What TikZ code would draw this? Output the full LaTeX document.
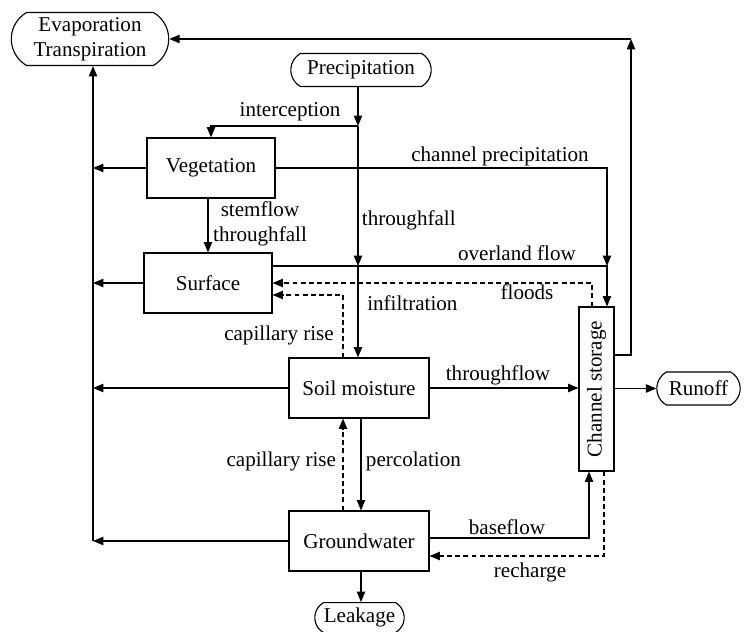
\documentclass[tikz,border=0pt]{standalone}
\usepackage{fontspec}
\setmainfont{Liberation Serif}
\usetikzlibrary{arrows.meta,shapes.misc}

\begin{document}
\begin{tikzpicture}[font=\fontsize{15}{18}\selectfont, >={Triangle[length=2.6mm,width=2.1mm]}, line width=0.8pt,
  box/.style={draw, minimum width=3.2cm, minimum height=1.5cm, inner sep=2pt},
  term/.style={draw, rounded rectangle, rounded rectangle arc length=120, minimum height=0.825cm, inner sep=2pt, align=center},
  lbl/.style={inner sep=1pt},
  back/.style={dash pattern=on 3.5pt off 2.3pt}]
  \useasboundingbox (0,0) rectangle (18.6,15.8);
  \node[term, minimum width=4.075cm, minimum height=1.325cm] (ET) at (2.25,14.825) {Evaporation\\Transpiration};
  \node[term, minimum width=3.65cm] (P) at (9.025,14.05) {Precipitation};
  \node[box] (V) at (5.275,11.6) {Vegetation};
  \node[box] (S) at (5.2,8.725) {Surface};
  \node[box, minimum width=3.5cm] (SM) at (8.975,6.1) {Soil moisture};
  \node[box, minimum width=3.5cm] (GW) at (8.975,2.275) {Groundwater};
  \node[draw, minimum width=0.875cm, minimum height=4.1cm, inner sep=0pt] (CS) at (14.9125,6.075) {\rotatebox{90}{Channel storage}};
  \node[term, minimum width=2.225cm] (R) at (17.4625,6.0875) {Runoff};
  \node[term, minimum width=2.375cm, minimum height=0.75cm] (L) at (8.9875,0.36) {Leakage};

  % junctions
  \coordinate (ic) at (8.95,12.65);
  \coordinate (tf) at (8.95,9.15);
  \coordinate (cp) at (15.175,9.15);
  \coordinate (et) at (15.775,14.825);
  \coordinate (lft) at (2.325,2.225);

  % losses to the atmosphere
  \draw[->] (GW.west) -- (GW.west -| lft);
  \draw[->] (GW.west -| lft) -- (ET.south -| lft);
  \draw[->] (V.west) -- (V.west -| lft);
  \draw[->] (S.west) -- (S.west -| lft);
  \draw[->] (SM.west) -- (SM.west -| lft);

  % precipitation path
  \draw[->] (P.south -| ic) -- (ic);
  \draw[->] (ic) -| (V.north);
  \draw[->] (ic) -- (tf);
  \draw[->] (tf) -- (tf |- SM.north);
  \draw[->] (V.south -| S.north) -- (S.north);
  \draw[->] (V.east) -| (cp);
  \draw[->] (S.east |- tf) -- (cp) -- (cp |- CS.north);

  % returns
  \draw[->, back] ([xshift=-0.1125cm]CS.north) |- (S.east);
  \draw[->, back] ([xshift=-0.4cm]SM.north) |- ([yshift=-0.3cm]S.east);
  \draw[->, back] ([xshift=-0.4cm]GW.north) -- ([xshift=-0.4cm]SM.south);
  \draw[->, back] ([xshift=0.1875cm]CS.south) |- ([yshift=-0.375cm]GW.east);

  % subsurface and channel
  \draw[->] ([xshift=0.05cm]SM.south) -- ([xshift=0.05cm]GW.north);
  \draw[->] ([xshift=0.05cm]GW.south) -- ([xshift=0.05cm]GW.south |- L.north);
  \draw[->] (SM.east) -- (SM.east -| CS.west);
  \draw[->] (CS.east |- R.west) -- (R.west);
  \draw[->] ([yshift=0.075cm]GW.east) -| ([xshift=-0.1875cm]CS.south);
  \draw[->] ([yshift=0.85cm]CS.east) -| (et);
  \draw[->] (et) -- (ET.east);

  % labels
  \node[lbl] (l-int) at (7.25,13.0) {interception};
  \node[lbl] (l-cp) at (12.5,11.9) {channel precipitation};
  \node[lbl, align=center] (l-sf) at (6.5,10.2) {stemflow\\throughfall};
  \node[lbl, anchor=west] (l-tf) at (9.0,10.3) {throughfall};
  \node[lbl] (l-of) at (12.925,9.475) {overland flow};
  \node[lbl] (l-fl) at (13.175,8.5) {floods};
  \node[lbl] (l-inf) at (10.31,8.225) {infiltration};
  \node[lbl] (l-cr1) at (6.975,7.425) {capillary rise};
  \node[lbl] (l-thf) at (12.45,6.425) {throughflow};
  \node[lbl, anchor=east] (l-cr2) at (8.45,4.275) {capillary rise};
  \node[lbl, anchor=west] (l-pc) at (9.1,4.275) {percolation};
  \node[lbl] (l-bf) at (12.675,2.625) {baseflow};
  \node[lbl] (l-rc) at (13.25,1.5) {recharge};
\end{tikzpicture}
\end{document}
